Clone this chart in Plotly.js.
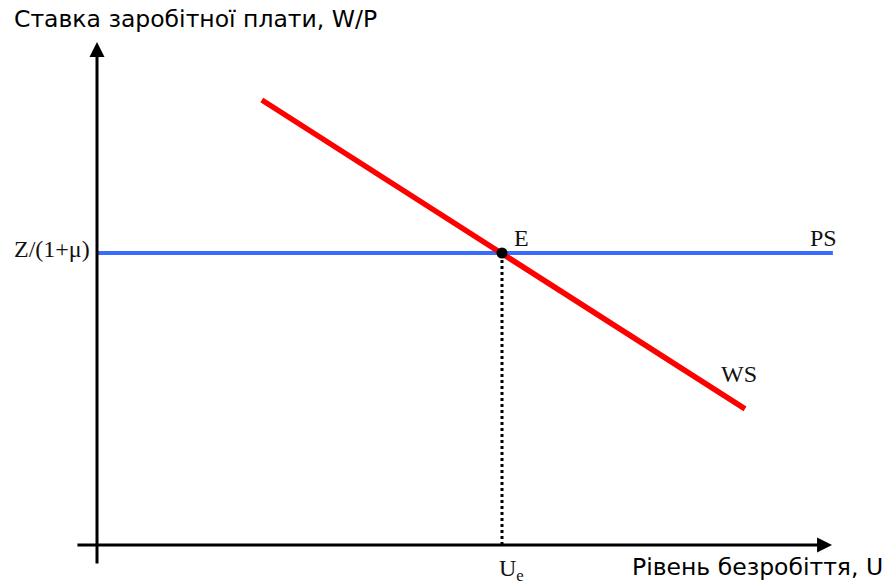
<!DOCTYPE html>
<html>
<head>
<meta charset="utf-8">
<script src="https://cdn.plot.ly/plotly-3.0.1.min.js"></script>
<style>html,body{margin:0;padding:0;background:#fff;}#chart{width:891px;height:584px;}</style>
</head>
<body>
<div id="chart"></div>
<script>
// Data (conceptual units: U on x, W/P on y)
const equilibriumU = 10;          // U_e
const psLevel = 10;               // Z/(1+μ)
const psX = [0, 18.17];
const psY = [10, 10];
const wsX = [4.07, 16.0];
const wsY = [15.24, 4.66];
const yAxisX = [0, 0];
const yAxisY = [-0.685, 17.23];
const xAxisX = [-0.52, 18.15];
const xAxisY = [0, 0];
const labelPS = 'PS';
const labelWS = 'WS';
const labelE = 'E';
const labelZ = 'Z/(1+μ)';
const labelUe = 'U<sub>e</sub>';
const titleY = 'Ставка заробітної плати, W/P';
const titleX = 'Рівень безробіття, U';

const serif = {family: 'Liberation Serif, Times New Roman, serif', size: 24, color: '#111'};
const sans = {family: 'DejaVu Sans, Arial, sans-serif', size: 23.5, color: '#000'};

const traces = [
  {x: psX, y: psY, mode: 'lines', line: {color: '#3A6BFF', width: 4}, hoverinfo: 'skip'},
  {x: wsX, y: wsY, mode: 'lines', line: {color: '#FF0000', width: 5.5}, hoverinfo: 'skip'},
  {x: [equilibriumU, equilibriumU], y: [0, psLevel], mode: 'lines', line: {color: '#000', width: 3, dash: '3px,3px'}, hoverinfo: 'skip'},
  {x: [equilibriumU], y: [psLevel], mode: 'markers', marker: {color: '#000', size: 11}, hoverinfo: 'skip'}
];

const layout = {
  width: 891, height: 584,
  margin: {l: 0, r: 0, t: 0, b: 0},
  paper_bgcolor: '#fff', plot_bgcolor: '#fff',
  showlegend: false,
  xaxis: {range: [-2.3951, 19.6049], visible: false, fixedrange: true},
  yaxis: {range: [-1.3356, 18.6644], visible: false, fixedrange: true},
  annotations: [
    // axis arrows
    {x: yAxisX[1], y: yAxisY[1], ax: yAxisX[0], ay: yAxisY[0], xref: 'x', yref: 'y', axref: 'x', ayref: 'y',
     text: '', showarrow: true, arrowhead: 2, arrowsize: 1, arrowwidth: 3, arrowcolor: '#000'},
    {x: xAxisX[1], y: xAxisY[1], ax: xAxisX[0], ay: xAxisY[0], xref: 'x', yref: 'y', axref: 'x', ayref: 'y',
     text: '', showarrow: true, arrowhead: 2, arrowsize: 1, arrowwidth: 3, arrowcolor: '#000'},
    // labels
    {x: -0.12, y: psLevel, xref: 'x', yref: 'y', text: labelZ, showarrow: false, xanchor: 'right', yanchor: 'middle', yshift: 4, font: serif},
    {x: 10.25, y: psLevel, xref: 'x', yref: 'y', text: labelE, showarrow: false, xanchor: 'left', yanchor: 'bottom', yshift: 0, font: serif},
    {x: 17.55, y: psLevel, xref: 'x', yref: 'y', text: labelPS, showarrow: false, xanchor: 'left', yanchor: 'bottom', yshift: 0, font: serif},
    {x: 15.35, y: 5.55, xref: 'x', yref: 'y', text: labelWS, showarrow: false, xanchor: 'left', yanchor: 'bottom', yshift: -6, font: serif},
    {x: equilibriumU, y: 0, xref: 'x', yref: 'y', text: labelUe, showarrow: false, xanchor: 'center', yanchor: 'top', xshift: 9, yshift: -8, font: serif},
    {x: 12/891, y: 1, xref: 'paper', yref: 'paper', text: titleY, showarrow: false, xanchor: 'left', yanchor: 'top', yshift: -3, font: sans},
    {x: 630/891, y: 0, xref: 'paper', yref: 'paper', text: titleX, showarrow: false, xanchor: 'left', yanchor: 'bottom', yshift: 1, font: sans}
  ]
};

Plotly.newPlot('chart', traces, layout, {displayModeBar: false, staticPlot: true});
</script>
</body>
</html>
